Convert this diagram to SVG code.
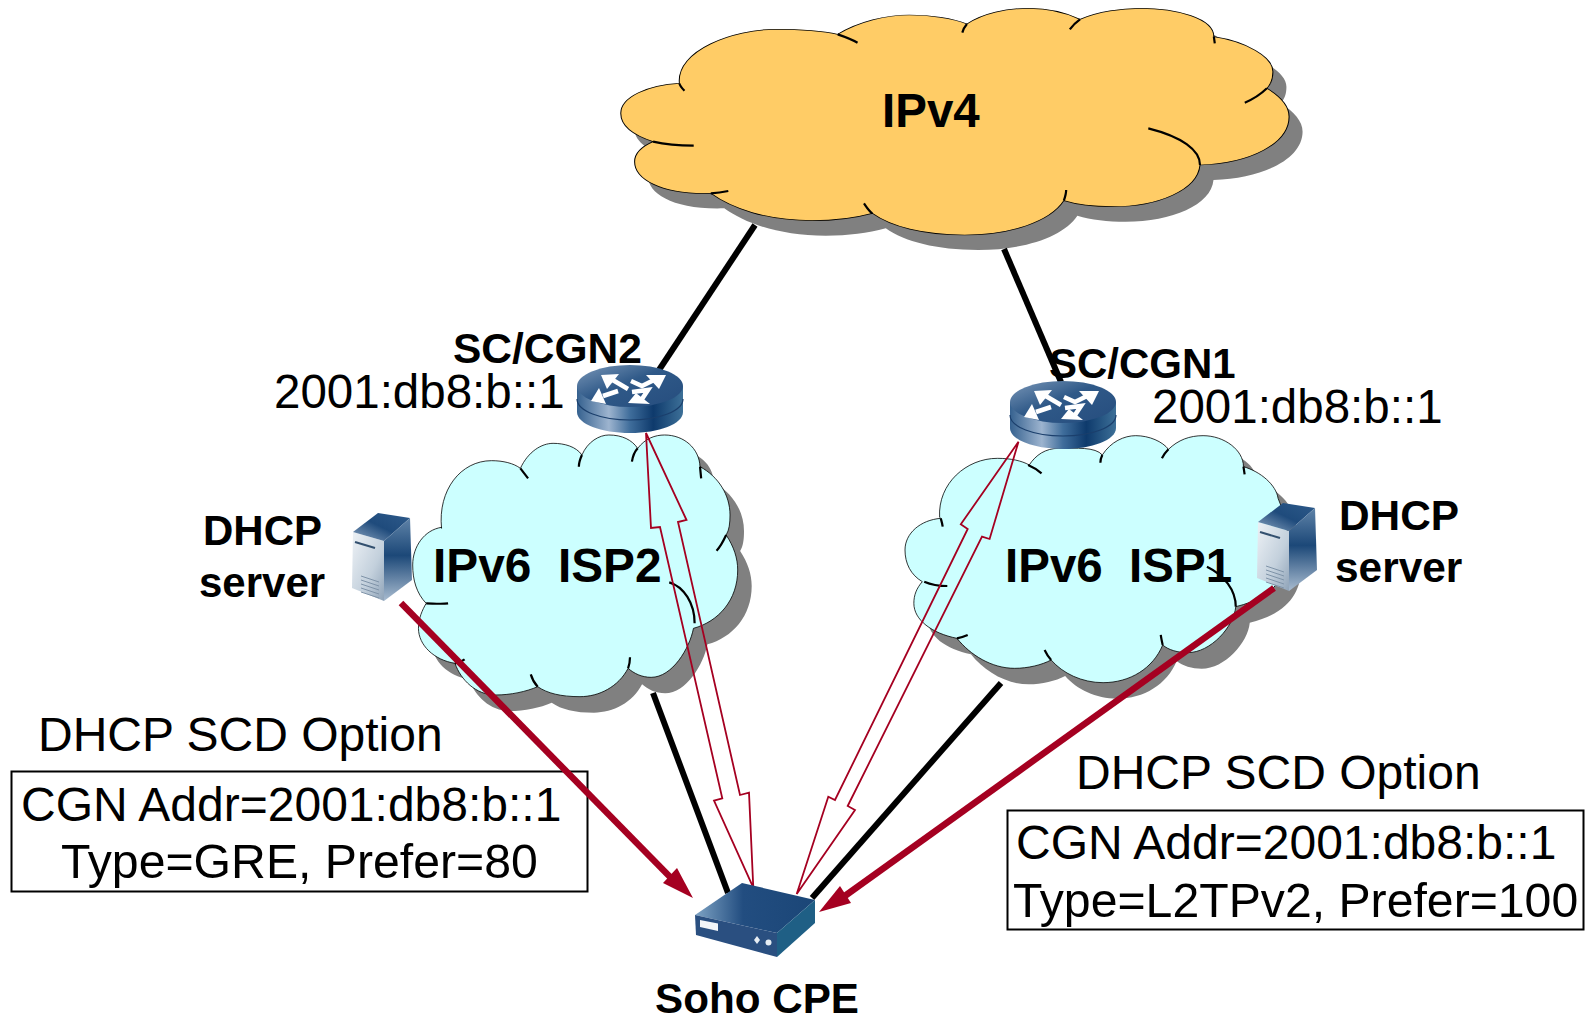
<svg xmlns="http://www.w3.org/2000/svg" width="1587" height="1019" viewBox="0 0 1587 1019">
<style>
text{font-family:"Liberation Sans",Arial,sans-serif;fill:#000;white-space:pre}
.b{font-weight:700}
.cl{stroke:#000;stroke-width:2.2;fill:none;vector-effect:non-scaling-stroke}
.sh{fill:#808080;stroke:none}
.link{stroke:#000;stroke-width:6;fill:none}
.red{stroke:#A50021;stroke-width:6.5;fill:none}
.head{fill:#A50021}
.hollow{stroke:#A50021;stroke-width:1.8;fill:none;stroke-linejoin:miter}
.box{fill:#fff;stroke:#000;stroke-width:2}
.rarrow{stroke:#fff;stroke-width:4.6;fill:none}
.rhead{fill:#fff}
</style>
<defs>
<linearGradient id="rb" x1="0" x2="1" y1="0" y2="0">
<stop offset="0" stop-color="#35618f"/><stop offset=".3" stop-color="#9db4cf"/><stop offset=".5" stop-color="#3f6d9b"/><stop offset=".72" stop-color="#0e3a6c"/><stop offset="1" stop-color="#3d7098"/>
</linearGradient>
<linearGradient id="rt" x1="0" x2="1" y1="0" y2="1">
<stop offset="0" stop-color="#7a97b8"/><stop offset=".45" stop-color="#2f5988"/><stop offset="1" stop-color="#264d7e"/>
</linearGradient>
<linearGradient id="sf" x1="0" x2="1" y1="0" y2="1">
<stop offset="0" stop-color="#eef2f6"/><stop offset=".6" stop-color="#c3d0dc"/><stop offset="1" stop-color="#8fa3b8"/>
</linearGradient>
<linearGradient id="st" x1="0" x2="1" y1="1" y2="0">
<stop offset="0" stop-color="#8aa3bf"/><stop offset=".5" stop-color="#1f4b7c"/><stop offset="1" stop-color="#2d5a8a"/>
</linearGradient>
<linearGradient id="ss" x1="0" x2="0" y1="0" y2="1">
<stop offset="0" stop-color="#5f83a8"/><stop offset=".45" stop-color="#1c4878"/><stop offset="1" stop-color="#a9bcd0"/>
</linearGradient>
<linearGradient id="ct" x1="0" x2="1" y1="0" y2="0">
<stop offset="0" stop-color="#7ea3c4"/><stop offset=".4" stop-color="#224d80"/><stop offset="1" stop-color="#1b4677"/>
</linearGradient>
<path id="c4" d="M172,250C165,150 290,88 380,88C430,88 480,92 515,103C560,65 620,45 670,45C715,45 765,55 795,72C830,40 880,25 930,25C970,25 1010,38 1040,58C1080,35 1130,25 1170,25C1250,25 1330,55 1330,110C1400,125 1458,170 1458,215C1458,235 1455,250 1445,265C1475,290 1493,320 1493,350C1493,430 1410,490 1300,495C1295,570 1210,620 1110,620C1070,620 1035,615 1005,602C975,665 890,705 790,705C700,705 630,680 590,640C550,655 510,662 460,662C360,662 285,625 240,580C130,585 75,535 75,485C75,460 90,440 115,425C70,405 45,375 45,340C45,290 105,255 172,250Z"/>
<path id="c2" d="M680,625C670,510 730,422 810,422C840,422 868,430 885,445C905,395 940,370 970,370C1000,370 1030,380 1045,405C1060,365 1090,345 1115,345C1150,345 1175,360 1190,385C1210,355 1235,345 1260,345C1310,345 1350,385 1352,440C1400,470 1430,525 1430,585C1430,610 1428,630 1420,645C1440,680 1450,715 1450,750C1450,840 1400,905 1335,925C1325,985 1280,1072 1225,1072C1200,1072 1180,1060 1165,1045C1140,1100 1090,1130 1040,1130C990,1130 955,1120 930,1100C900,1115 860,1125 820,1125C770,1125 730,1080 715,1030C660,1020 620,975 620,925C620,895 630,870 640,850C615,820 605,780 605,735C605,680 635,630 680,622Z"/>
<path id="c1" d="M155,532C150,430 225,355 305,355C340,355 368,362 388,375C405,345 430,325 465,325C510,325 560,320 578,345C600,305 635,287 665,287C700,287 735,305 750,328C775,300 805,287 840,287C895,287 945,330 945,380C990,395 1030,435 1035,475C1055,530 1065,590 1060,640C1055,700 1035,770 925,800C920,860 860,938 800,938C775,938 750,930 735,915C710,985 650,1028 580,1028C525,1028 475,1000 445,960C420,975 385,985 350,985C290,985 235,945 200,895C135,880 88,840 88,790C88,765 95,745 110,725C80,705 65,670 65,630C65,580 105,540 158,535Z"/>
<g id="router">
<path d="M577,386V412C577,424 601,433 630,433S683,424 683,412V386Z" fill="url(#rb)"/>
<path d="M577,399C577,411 601,420 630,420S683,411 683,399" fill="none" stroke="#1b3f6c" stroke-width="1.2"/>
<ellipse cx="630" cy="386" rx="53" ry="21" fill="url(#rt)"/>
<path class="rarrow" d="M628,389L611,379"/><polygon class="rhead" points="601,375 619,374 607,389"/>
<path class="rarrow" d="M631,381L642,386L654,380"/><polygon class="rhead" points="666,375 646,375 659,389"/>
<path class="rarrow" d="M618,391L603,396"/><polygon class="rhead" points="591,401 599,388 606,404"/>
<path class="rarrow" d="M632,392L648,390L642,399"/><polygon class="rhead" points="628,403 636,393 650,404"/>
</g>
<g id="server">
<polygon points="353,532 384,541 384,601 352,588" fill="url(#sf)"/>
<polygon points="353,532 378,513 410,518 384,541" fill="url(#st)"/>
<polygon points="384,541 410,518 412,580 384,601" fill="url(#ss)"/>
<path d="M355,542L375,548" stroke="#33506f" stroke-width="2"/>
<path d="M361,576L379,582M361,580L379,586M361,584L379,590M361,588L379,594M361,592L379,598" stroke="#7f93a8" stroke-width="1"/>
</g>
</defs>

<g id="cloud-ipv4">
<use href="#c4" class="sh" transform="translate(613.5,15) scale(.46154,.33333)"/>
<g transform="translate(600,0) scale(.46154,.33333)">
<use href="#c4" fill="#FFCC66"/>
<use href="#c4" class="cl"/>
<path class="cl" d="M172,250C173,258 178,265 183,272M515,103C530,110 545,118 558,128M795,72C790,80 787,88 785,98M1040,58C1030,68 1023,78 1018,88M1330,110L1332,130M1445,265C1430,285 1415,298 1397,308M1300,495C1300,450 1260,410 1188,385M1005,602C1008,590 1010,580 1010,570M590,640C582,632 577,620 572,610M240,580C255,579 268,576 278,573M115,425C140,433 170,437 203,437"/>
</g>
<text class="b" x="882" y="127" font-size="47.5">IPv4</text>
</g>

<g id="cloud-isp2">
<use href="#c2" class="sh" transform="translate(194,336) scale(.38462,.33333)"/>
<g transform="translate(180,320) scale(.38462,.33333)">
<use href="#c2" fill="#CCFFFF"/>
<use href="#c2" class="cl"/>
<path class="cl" d="M885,445L905,475M1045,405C1040,418 1037,430 1037,440M1190,385C1182,395 1177,410 1175,425M1352,440L1355,475M1420,645C1412,665 1405,680 1395,692M1272,787C1310,800 1338,850 1338,910M1165,1045C1168,1035 1170,1025 1170,1012M930,1100C922,1090 915,1075 912,1063M715,1030C725,1028 733,1024 740,1018M640,850C655,850 680,853 697,850"/>
</g>
<text class="b" x="433" y="582" font-size="47.8">IPv6  ISP2</text>
</g>

<g id="cloud-isp1">
<use href="#c1" class="sh" transform="translate(894,356) scale(.38462,.33333)"/>
<g transform="translate(880,340) scale(.38462,.33333)">
<use href="#c1" fill="#CCFFFF"/>
<use href="#c1" class="cl"/>
<path class="cl" d="M385,375C397,381 410,390 420,400M578,345C575,352 573,360 573,368M750,328C742,337 737,346 733,355M945,380L948,403M925,800C925,750 895,705 850,680M735,915C733,905 731,895 730,885M445,960C437,950 432,940 428,930M200,895C210,893 220,889 228,885M115,725C135,735 155,738 175,738M158,535C160,543 162,552 163,560"/>
</g>
<text class="b" x="1005" y="582" font-size="47.5">IPv6  ISP1</text>
</g>

<g id="option-left">
<text x="38" y="751" font-size="48">DHCP SCD Option</text>
<rect class="box" x="11.5" y="771.5" width="576" height="120"/>
<text x="21" y="821" font-size="48">CGN Addr=2001:db8:b::1</text>
<text x="61" y="878" font-size="48.2">Type=GRE, Prefer=80</text>
</g>
<g id="option-right">
<text x="1076" y="789" font-size="48">DHCP SCD Option</text>
<rect class="box" x="1007.5" y="810.5" width="576" height="119"/>
<text x="1016" y="859" font-size="48">CGN Addr=2001:db8:b::1</text>
<text x="1013" y="917" font-size="48.2">Type=L2TPv2, Prefer=100</text>
</g>

<g id="connectors">
<path class="link" d="M755,225L659,370"/>
<path class="link" d="M1004,249L1061,382"/>
<path class="link" d="M653,693L728,893"/>
<path class="link" d="M1001,683L812,898"/>
<path class="red" d="M401,603L675,882"/>
<polygon class="head" points="693,898 663,883 677,868"/>
<path class="red" d="M1274,588L842,898"/>
<polygon class="head" points="819,912 840,886 851,903"/>
<polygon class="hollow" points="646,433 686.5,520 678,522 740,795 749,792.7 753.3,887.7 714,800.7 722.3,798.3 660,527 651,528"/>
<polygon class="hollow" points="1018.5,441.7 989.6,539 982,536.7 847.7,806 855,810 796.7,894 828.3,796.7 835,800 967.7,529 960.8,524.3"/>
</g>

<g id="sc-cgn2">
<use href="#router"/>
<text class="b" x="453" y="363" font-size="42.5">SC/CGN2</text>
<text x="274" y="408" font-size="47.5">2001:db8:b::1</text>
</g>
<g id="sc-cgn1">
<use href="#router" transform="translate(433,16)"/>
<text class="b" x="1049" y="378" font-size="42">SC/CGN1</text>
<text x="1152" y="423" font-size="47.5">2001:db8:b::1</text>
</g>
<g id="dhcp-left">
<use href="#server"/>
<text class="b" x="203" y="545" font-size="42">DHCP</text>
<text class="b" x="199" y="597" font-size="42">server</text>
</g>
<g id="dhcp-right">
<use href="#server" transform="translate(905,-10)"/>
<text class="b" x="1339" y="530" font-size="42.4">DHCP</text>
<text class="b" x="1335" y="582" font-size="42.4">server</text>
</g>
<g id="soho-cpe">
<polygon points="695,915 742,883 815,900 777,933" fill="url(#ct)"/>
<polygon points="695,915 777,933 777,957 696,935" fill="#2a4f80"/>
<polygon points="777,933 815,900 815,923 777,957" fill="#1f5f85"/>
<polygon points="700,920 718,923.5 718,931 700,927" fill="#f2f5f8"/>
<polygon points="757,936 760,940 757,944 754,940" fill="#e6edf3"/>
<circle cx="768.5" cy="942.5" r="3" fill="#e6edf3"/>
<text class="b" x="655" y="1013" font-size="42.2">Soho CPE</text>
</g>
</svg>
